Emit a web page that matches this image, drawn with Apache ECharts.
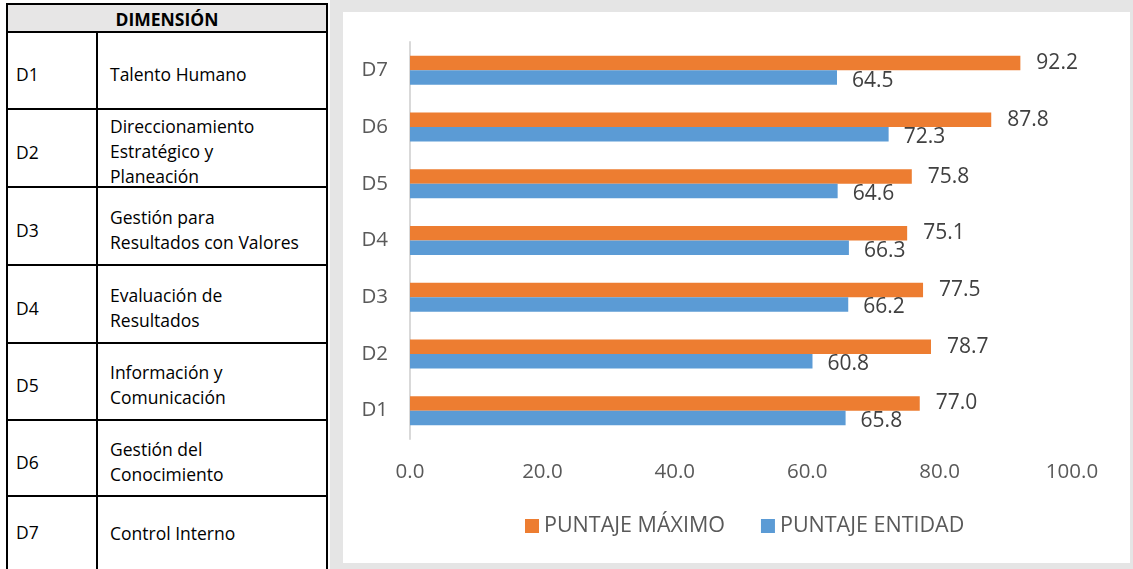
<!DOCTYPE html>
<html>
<head>
<meta charset="utf-8">
<script src="https://cdn.jsdelivr.net/npm/echarts@6/dist/echarts.min.js"></script>
<style>
  html, body { margin: 0; padding: 0; background: #fff; width: 1133px; height: 569px; overflow: hidden; }
  #frame { position: absolute; left: 330px; top: 0; width: 803px; height: 569px; background: #e5e5e5; }
  #chart { position: absolute; left: 343px; top: 12px; width: 787px; height: 551px; background: #fff; }
  #tbl { position: absolute; left: 6px; top: 3px; width: 318px; height: 580px; border: 2px solid #000; border-bottom: none;
         font-family: "Open Sans", sans-serif; font-size: 17.5px; color: #000; }
  .hdr { position: absolute; left: 0; top: 0; width: 318px; height: 26px; background: #e7e6e6; border-bottom: 2px solid #000;
         font-weight: bold; font-size: 17.5px; text-align: center; line-height: 28px; }
  .row { position: absolute; left: 0; width: 318px; border-bottom: 2px solid #000; }
  .code { position: absolute; left: 0; top: 0; width: 90px; height: 100%; border-right: 2px solid #000;
          display: flex; align-items: center; padding-left: 8px; box-sizing: border-box; padding-top: 7px; }
  .name { position: absolute; left: 102px; top: 0; right: 0; height: 100%; display: flex; flex-direction: column;
          justify-content: center; line-height: 25px; padding-top: 7px; box-sizing: border-box; white-space: nowrap; }
</style>
</head>
<body>
<div id="tbl"></div>
<div id="frame"></div>
<div id="chart"></div>
<script>
// ---- data ----
const tableHeader = 'DIMENSIÓN';
const dimCodes = ['D1', 'D2', 'D3', 'D4', 'D5', 'D6', 'D7'];
const dimNames = [
  ['Talento Humano'],
  ['Direccionamiento', 'Estratégico y', 'Planeación'],
  ['Gestión para', 'Resultados con Valores'],
  ['Evaluación de', 'Resultados'],
  ['Información y', 'Comunicación'],
  ['Gestión del', 'Conocimiento'],
  ['Control Interno']
];
const categories = ['D1', 'D2', 'D3', 'D4', 'D5', 'D6', 'D7'];
const seriesNames = ['PUNTAJE MÁXIMO', 'PUNTAJE ENTIDAD'];
const puntajeMaximo = [77.0, 78.7, 77.5, 75.1, 75.8, 87.8, 92.2];
const puntajeEntidad = [65.8, 60.8, 66.2, 66.3, 64.6, 72.3, 64.5];
const xTicks = [0, 20, 40, 60, 80, 100];

// ---- table (layout) ----
const rowTops = [28, 105, 183, 261, 339, 416, 492];
const rowHeights = [75, 76, 76, 76, 75, 74, 66];
const tbl = document.getElementById('tbl');
const hdr = document.createElement('div');
hdr.className = 'hdr';
hdr.textContent = tableHeader;
tbl.appendChild(hdr);
dimCodes.forEach((c, i) => {
  const r = document.createElement('div');
  r.className = 'row';
  r.style.top = rowTops[i] + 'px';
  r.style.height = rowHeights[i] + 'px';
  if (i === dimCodes.length - 1) r.style.borderBottom = 'none';
  const cd = document.createElement('div');
  cd.className = 'code';
  cd.textContent = c;
  const nm = document.createElement('div');
  nm.className = 'name';
  dimNames[i].forEach(line => {
    const d = document.createElement('div');
    d.textContent = line;
    nm.appendChild(d);
  });
  r.appendChild(cd);
  r.appendChild(nm);
  tbl.appendChild(r);
});
// extend last column divider to the bottom edge
const lastCode = tbl.lastChild.querySelector('.code');
lastCode.style.height = '120px';
lastCode.style.alignItems = 'flex-start';
lastCode.style.paddingTop = '23px';

// ---- chart ----
const font = '"Open Sans", sans-serif';
const chart = echarts.init(document.getElementById('chart'));
chart.setOption({
  backgroundColor: '#fff',
  animation: false,
  grid: { left: 67, top: 30, width: 662, height: 397, containLabel: false },
  legend: {
    data: seriesNames,
    left: 177, top: 498,
    itemWidth: 14, itemHeight: 14, itemGap: 36,
    icon: 'rect',
    textStyle: { fontFamily: font, fontSize: 21.5, color: '#595959' }
  },
  xAxis: {
    type: 'value', min: xTicks[0], max: xTicks[xTicks.length - 1], interval: 20,
    axisLine: { show: false }, axisTick: { show: false }, splitLine: { show: false },
    axisLabel: { margin: 23, fontFamily: font, fontSize: 20.5, color: '#595959', formatter: v => v.toFixed(1) }
  },
  yAxis: {
    type: 'category', data: categories,
    axisLine: { show: true, lineStyle: { color: '#d9d9d9', width: 2 } },
    axisTick: { show: false },
    axisLabel: { margin: 22, fontFamily: font, fontSize: 20.5, color: '#595959' }
  },
  series: [
    {
      name: seriesNames[0], type: 'bar', data: puntajeMaximo, barWidth: 14.5, barGap: '0%',
      itemStyle: { color: '#ed7d31' },
      label: { show: true, position: 'right', distance: 16, fontFamily: font, fontSize: 21, color: '#404040',
               formatter: p => p.value.toFixed(1) }
    },
    {
      name: seriesNames[1], type: 'bar', data: puntajeEntidad, barWidth: 14.5, barGap: '0%',
      itemStyle: { color: '#5b9bd5' },
      label: { show: true, position: 'right', distance: 15, offset: [0, 3], fontFamily: font, fontSize: 21, color: '#404040',
               formatter: p => p.value.toFixed(1) }
    }
  ]
});
</script>
</body>
</html>
